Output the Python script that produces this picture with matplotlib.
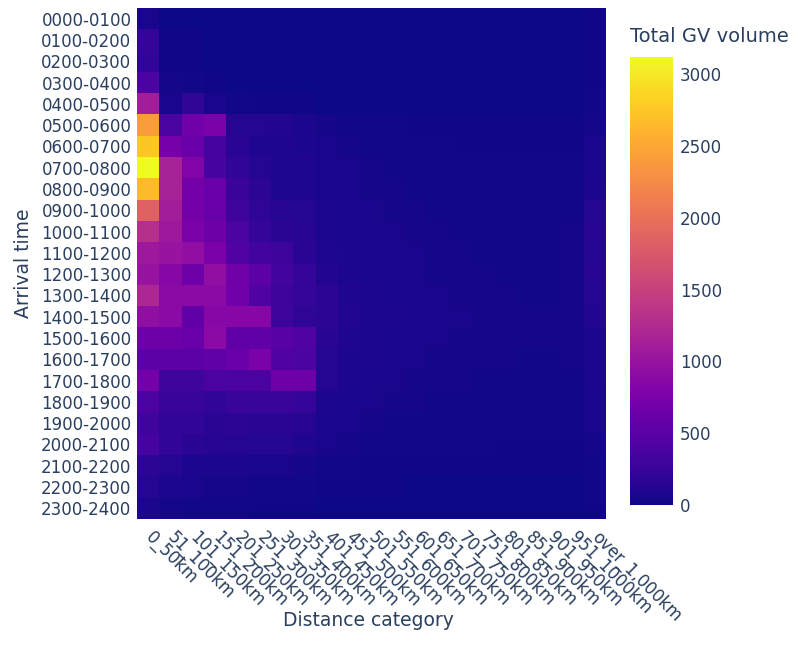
import matplotlib
matplotlib.use("Agg")
import matplotlib.pyplot as plt
import numpy as np

arrival_times = ["0000-0100", "0100-0200", "0200-0300", "0300-0400", "0400-0500",
                 "0500-0600", "0600-0700", "0700-0800", "0800-0900", "0900-1000",
                 "1000-1100", "1100-1200", "1200-1300", "1300-1400", "1400-1500",
                 "1500-1600", "1600-1700", "1700-1800", "1800-1900", "1900-2000",
                 "2000-2100", "2100-2200", "2200-2300", "2300-2400"]

distance_categories = ["0_50km", "51_100km", "101_150km", "151_200km", "201_250km",
                       "251_300km", "301_350km", "351_400km", "401_450km", "451_500km",
                       "501_550km", "551_600km", "601_650km", "651_700km", "701_750km",
                       "751_800km", "801_850km", "851_900km", "901_950km", "951_1000km",
                       "over_1,000km"]

# total GV volume, one row per arrival hour, one column per distance category
volume = [
    [60, 10, 10, 10, 5, 5, 5, 5, 5, 5, 5, 5, 5, 5, 5, 5, 5, 5, 5, 5, 15],
    [220, 20, 15, 10, 8, 5, 5, 5, 5, 5, 5, 5, 5, 5, 5, 5, 5, 5, 5, 5, 15],
    [200, 20, 15, 10, 8, 8, 5, 5, 5, 5, 5, 5, 5, 5, 5, 5, 5, 5, 5, 5, 15],
    [380, 40, 30, 20, 10, 10, 8, 8, 5, 5, 5, 5, 5, 5, 5, 5, 5, 5, 5, 5, 20],
    [1100, 60, 180, 60, 30, 20, 15, 15, 10, 10, 10, 8, 8, 8, 8, 8, 5, 5, 5, 5, 25],
    [2400, 380, 680, 750, 120, 110, 100, 70, 40, 30, 25, 25, 20, 20, 15, 15, 15, 15, 15, 15, 40],
    [2750, 720, 600, 350, 150, 90, 90, 70, 50, 40, 30, 30, 25, 25, 20, 20, 20, 20, 20, 20, 50],
    [3120, 1150, 800, 350, 200, 120, 90, 90, 60, 50, 40, 35, 30, 30, 25, 25, 25, 25, 25, 25, 60],
    [2650, 1150, 700, 600, 260, 160, 90, 90, 60, 50, 40, 40, 35, 30, 30, 30, 25, 25, 25, 30, 80],
    [1850, 1100, 700, 600, 300, 180, 130, 110, 80, 60, 50, 45, 40, 35, 35, 30, 30, 30, 30, 35, 110],
    [1300, 1050, 750, 650, 380, 220, 150, 130, 80, 60, 50, 50, 45, 40, 35, 35, 30, 30, 30, 40, 130],
    [1050, 1000, 950, 750, 430, 320, 280, 150, 90, 70, 55, 50, 50, 45, 40, 35, 35, 35, 35, 40, 110],
    [1000, 850, 650, 950, 680, 520, 320, 220, 100, 80, 60, 55, 50, 45, 40, 40, 35, 35, 35, 40, 130],
    [1200, 900, 900, 900, 680, 420, 280, 230, 160, 90, 65, 60, 50, 50, 45, 40, 40, 35, 35, 40, 110],
    [950, 900, 550, 850, 850, 850, 280, 180, 160, 100, 75, 65, 55, 50, 50, 45, 40, 40, 40, 45, 100],
    [650, 650, 600, 900, 550, 550, 480, 420, 140, 90, 70, 60, 55, 50, 45, 45, 40, 40, 40, 45, 80],
    [500, 500, 500, 550, 600, 750, 430, 380, 120, 80, 65, 55, 50, 45, 45, 40, 40, 35, 35, 40, 80],
    [700, 300, 300, 400, 400, 400, 650, 650, 120, 80, 60, 50, 45, 40, 40, 35, 35, 35, 30, 35, 70],
    [400, 250, 250, 200, 250, 250, 250, 220, 80, 60, 50, 45, 40, 35, 35, 30, 30, 30, 30, 30, 60],
    [300, 200, 200, 150, 170, 150, 150, 130, 60, 50, 40, 35, 35, 30, 30, 25, 25, 25, 25, 25, 50],
    [350, 200, 150, 130, 110, 110, 110, 90, 50, 40, 35, 30, 30, 25, 25, 25, 20, 20, 20, 20, 45],
    [160, 110, 70, 70, 70, 50, 50, 40, 30, 25, 20, 20, 20, 15, 15, 15, 15, 15, 15, 15, 35],
    [110, 70, 50, 40, 40, 30, 30, 25, 20, 15, 15, 15, 10, 10, 10, 10, 10, 10, 10, 10, 25],
    [70, 40, 30, 25, 25, 20, 20, 15, 10, 10, 10, 10, 8, 8, 8, 8, 8, 8, 8, 8, 20],
]

text_color = "#2a3f5f"
plt.rcParams['font.family'] = ['DejaVu Sans']

fig = plt.figure(figsize=(7.98, 6.61), dpi=100)
ax = fig.add_axes([0.1717, 0.2148, 0.5877, 0.7731])
cax = fig.add_axes([0.7895, 0.236, 0.0539, 0.678])

z = np.array(volume)
mesh = ax.pcolormesh(z, cmap="plasma", vmin=0, vmax=3120)
ax.set_xlim(0, len(distance_categories))
ax.set_ylim(len(arrival_times), 0)

ax.set_xticks(np.arange(len(distance_categories)) + 0.5)
ax.set_xticklabels(distance_categories, rotation=-45, ha="left", va="center",
                   rotation_mode="anchor", fontsize=12, color=text_color)
ax.set_yticks(np.arange(len(arrival_times)) + 0.5)
ax.set_yticklabels(arrival_times, fontsize=12, color=text_color)
ax.tick_params(axis="y", length=0, pad=4)
ax.tick_params(axis="x", length=0, pad=11)
for s in ax.spines.values():
    s.set_visible(False)

ax.set_ylabel("Arrival time", fontsize=13.5, color=text_color, labelpad=6)
fig.text(0.462, 0.062, "Distance category", fontsize=13.5, color=text_color,
         ha="center", va="center")

cb = fig.colorbar(mesh, cax=cax)
cb.set_ticks([0, 500, 1000, 1500, 2000, 2500, 3000])
cb.outline.set_visible(False)
cax.tick_params(length=0, labelsize=12, labelcolor=text_color, pad=5)
fig.text(0.7895, 0.945, "Total GV volume", fontsize=14, color=text_color,
         ha="left", va="center")

fig.savefig("out.png", dpi=100)
